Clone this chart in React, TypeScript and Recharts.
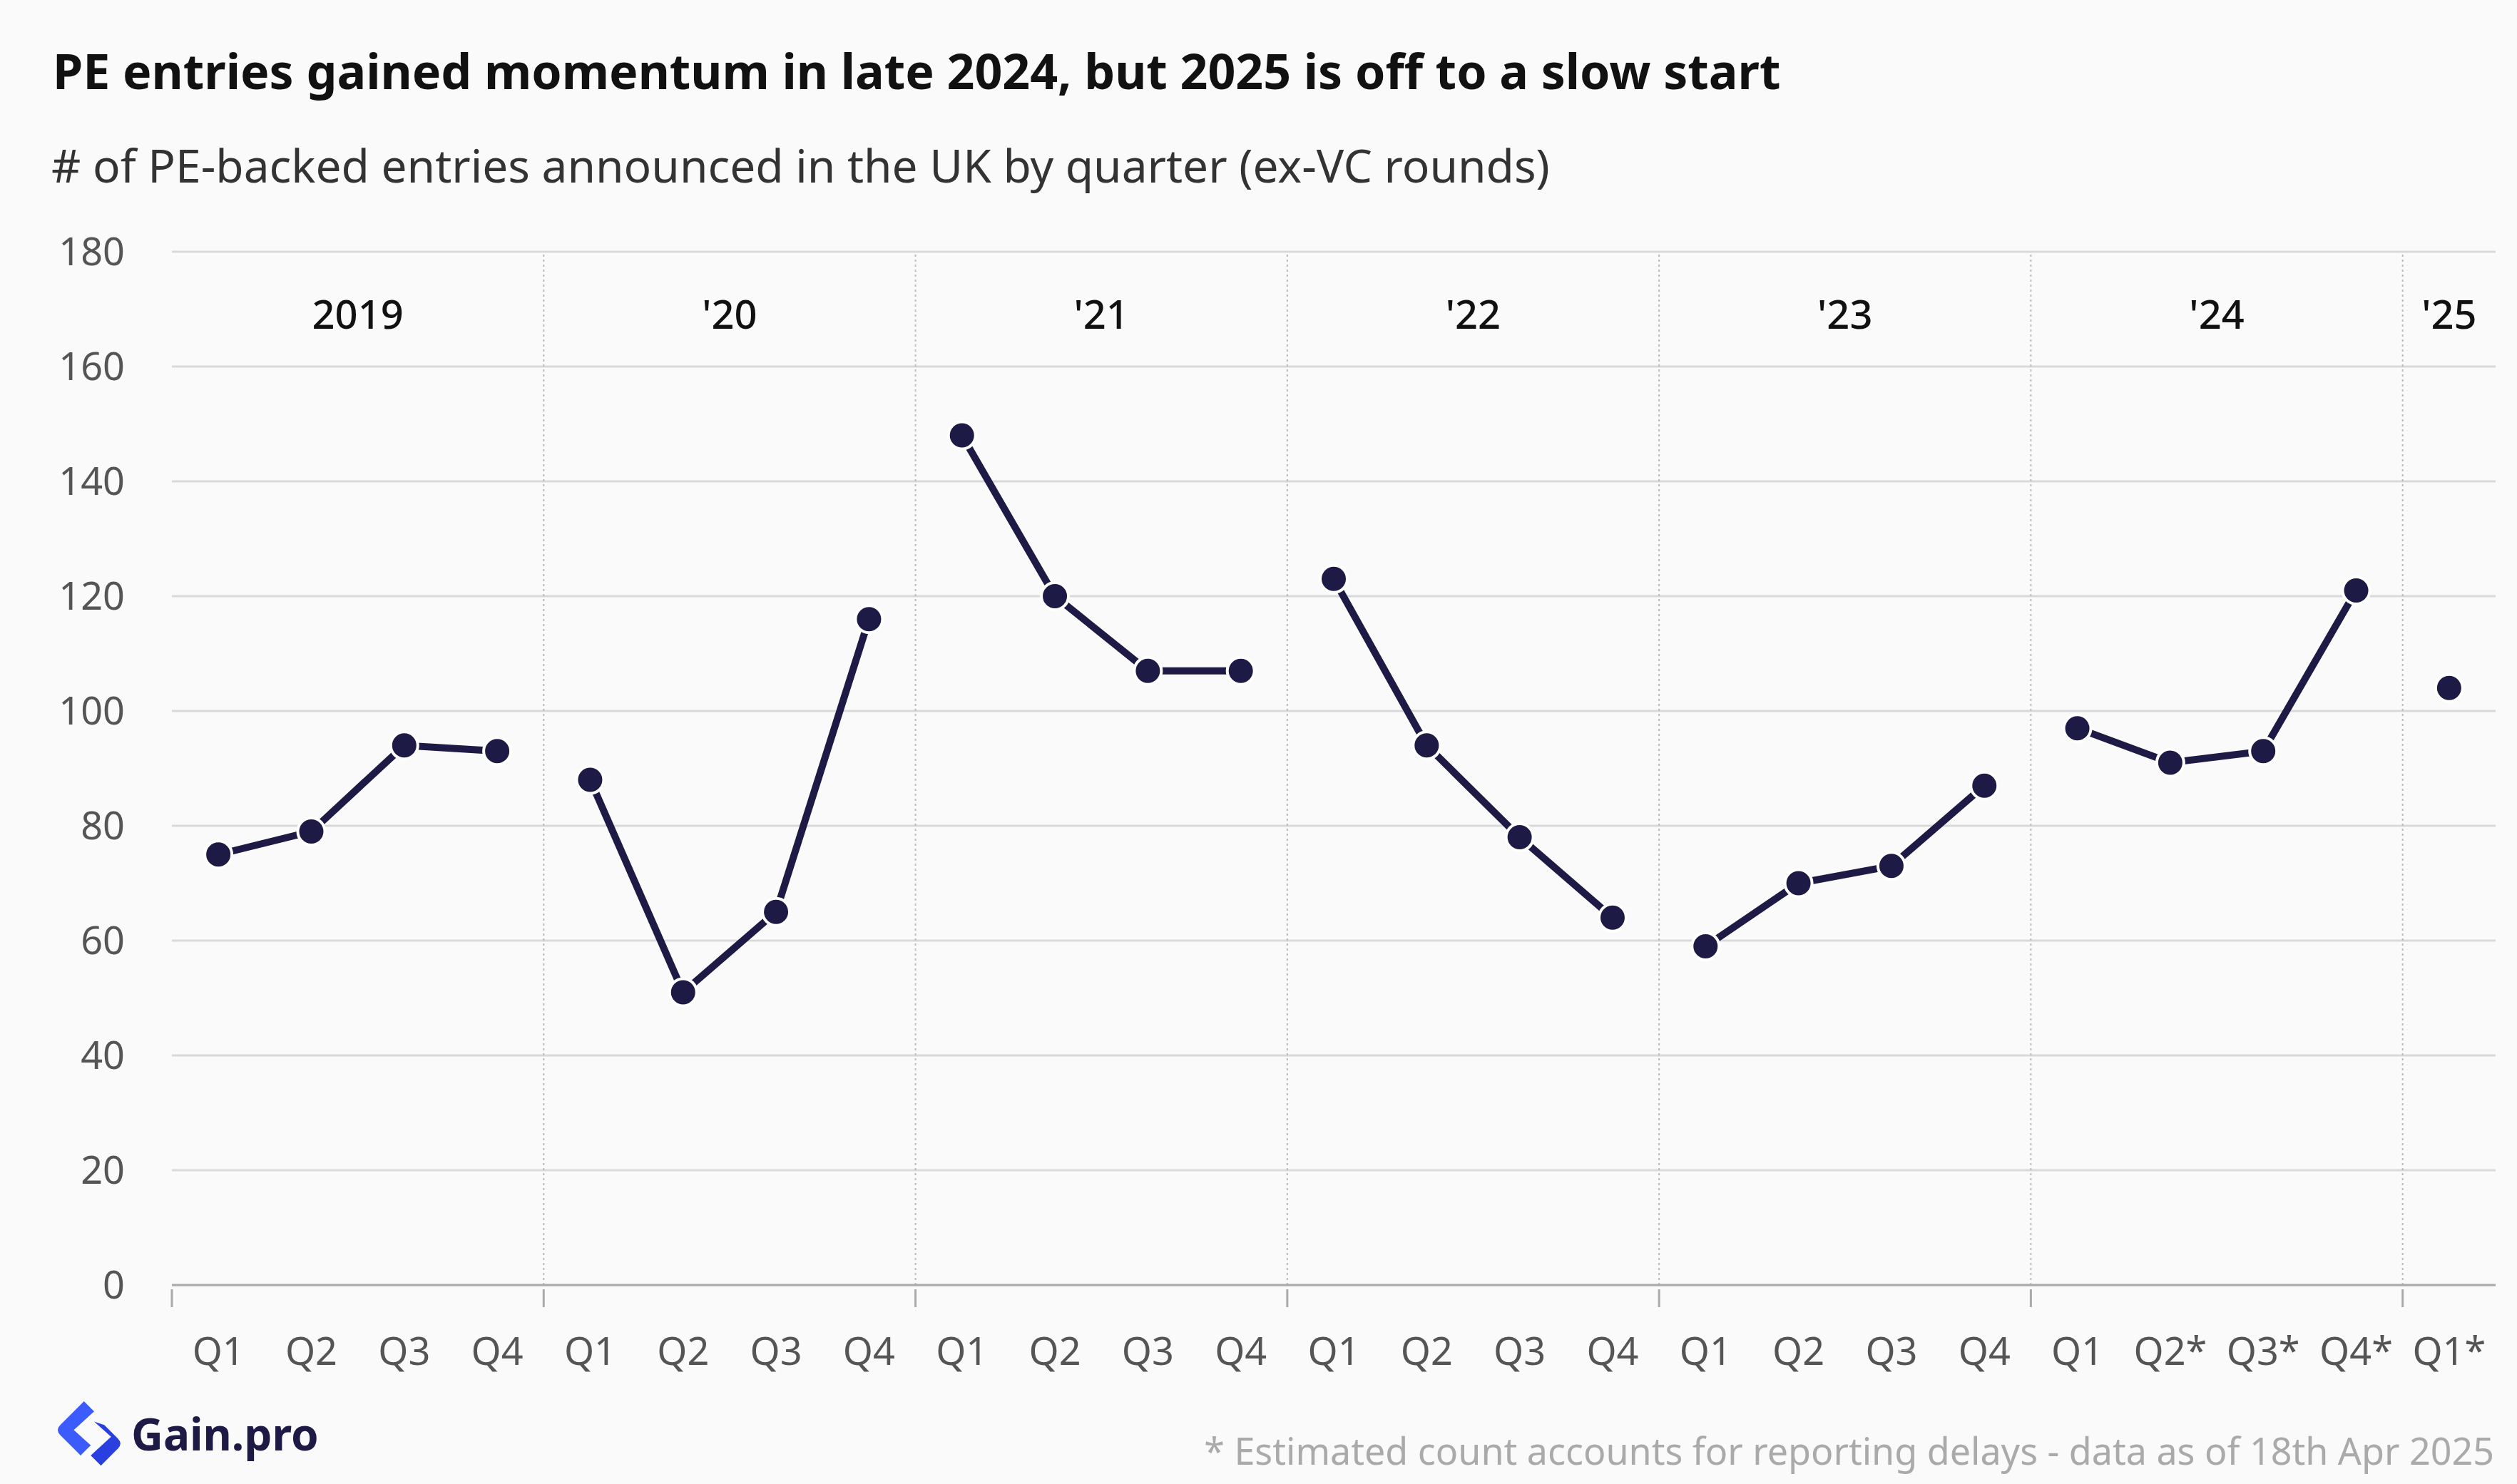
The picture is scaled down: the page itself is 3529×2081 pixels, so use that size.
import React from 'react';
import { LineChart, Line, XAxis, YAxis, CartesianGrid, ReferenceLine, ReferenceArea } from 'recharts';

const quarterLabels = ['Q1','Q2','Q3','Q4','Q1','Q2','Q3','Q4','Q1','Q2','Q3','Q4','Q1','Q2','Q3','Q4','Q1','Q2','Q3','Q4','Q1','Q2*','Q3*','Q4*','Q1*'];
const years = ['2019', "'20", "'21", "'22", "'23", "'24", "'25"];
const values = [75, 79, 94, 93, 88, 51, 65, 116, 148, 120, 107, 107, 123, 94, 78, 64, 59, 70, 73, 87, 97, 91, 93, 121, 104];
const yTicks = [0, 20, 40, 60, 80, 100, 120, 140, 160, 180];

const W = 3529;
const H = 2081;
const LEFT = 241;
const RIGHT = 30;
const BAND = (W - LEFT - RIGHT) / 25;
const NAVY = '#1d1a45';
const FONT = '"Noto Sans", sans-serif';

const data = values.map((v, i) => {
  const row: any = { x: i + 0.5 };
  years.forEach((y, k) => { row['y' + k] = Math.floor(i / 4) === k ? v : null; });
  return row;
});

const XTick = (props: any) => {
  const { x, y, payload } = props;
  const idx = Math.round(payload.value - 0.5);
  return (
    <g>
      {idx % 4 === 0 && <line x1={x - BAND / 2} x2={x - BAND / 2} y1={y} y2={y + 25} stroke="#aaa" strokeWidth={3} />}
      <text x={x} y={y + 92} textAnchor="middle" dominantBaseline="middle" fill="#555" fontSize={54} fontFamily={FONT}>{quarterLabels[idx]}</text>
    </g>
  );
};

export default function App() {
  return (
    <div style={{ position: 'relative', width: W, height: H, background: '#fafafa', fontFamily: FONT }}>
      <style>{'body{margin:0;background:#fafafa}'}</style>
      <div style={{ position: 'absolute', left: 74, top: 52, fontSize: 68, fontWeight: 700, color: '#111' }}>
        PE entries gained momentum in late 2024, but 2025 is off to a slow start
      </div>
      <div style={{ position: 'absolute', left: 72, top: 188, fontSize: 64, color: '#333' }}>
        # of PE-backed entries announced in the UK by quarter (ex-VC rounds)
      </div>
      <div style={{ position: 'absolute', left: 0, top: 0 }}>
        <LineChart width={W} height={H} data={data} margin={{ top: 353, right: RIGHT, bottom: 159, left: 0 }}>
          <CartesianGrid vertical={false} stroke="#d9d9d9" strokeWidth={3} />
          <XAxis dataKey="x" type="number" domain={[0, 25]} ticks={values.map((_, i) => i + 0.5)} height={120}
            tick={<XTick />} tickLine={false} tickMargin={0} axisLine={{ stroke: '#aaa', strokeWidth: 3 }} interval={0} />
          <YAxis domain={[0, 180]} ticks={yTicks} width={LEFT} axisLine={false} tickLine={false} tickMargin={60}
            tick={{ fill: '#555', fontSize: 54, fontFamily: FONT }} />
          {[4, 8, 12, 16, 20, 24].map(v => (
            <ReferenceLine key={v} x={v} stroke="#bbb" strokeWidth={2} strokeDasharray="3 4" />
          ))}
          {years.map((y, k) => (
            <ReferenceArea key={y} x1={k * 4} x2={Math.min(k * 4 + 4, 25)} y1={158} y2={180} fill="none" stroke="none"
              label={{ value: y, position: 'center', fill: '#111', fontSize: 56, fontFamily: FONT, fontWeight: 500 }} />
          ))}
          {years.map((y, k) => (
            <Line key={y} dataKey={'y' + k} stroke={NAVY} strokeWidth={10} isAnimationActive={false} connectNulls={false}
              dot={{ r: 19, fill: NAVY, stroke: '#fff', strokeWidth: 4 }} />
          ))}
        </LineChart>
      </div>
      <div style={{ position: 'absolute', left: 75, top: 1960, display: 'flex', alignItems: 'center' }}>
        <svg width={95} height={100} viewBox="0 0 40 42">
          <path d="M18 2 L4 16 Q1 19 4 22 L16 34 L22 28 L12 19 L24 8 Z" fill="#3b5bfd" />
          <path d="M24 14 L34 23 L22 34 L28 40 L38 30 Q41 27 38 24 L30 16 Z" fill="#2a3fe0" />
        </svg>
        <span style={{ fontSize: 62, fontWeight: 700, color: '#1d1a45', marginLeft: 14 }}>Gain.pro</span>
      </div>
      <div style={{ position: 'absolute', right: 32, top: 1998, fontSize: 52, color: '#aaa' }}>
        * Estimated count accounts for reporting delays - data as of 18th Apr 2025
      </div>
    </div>
  );
}
